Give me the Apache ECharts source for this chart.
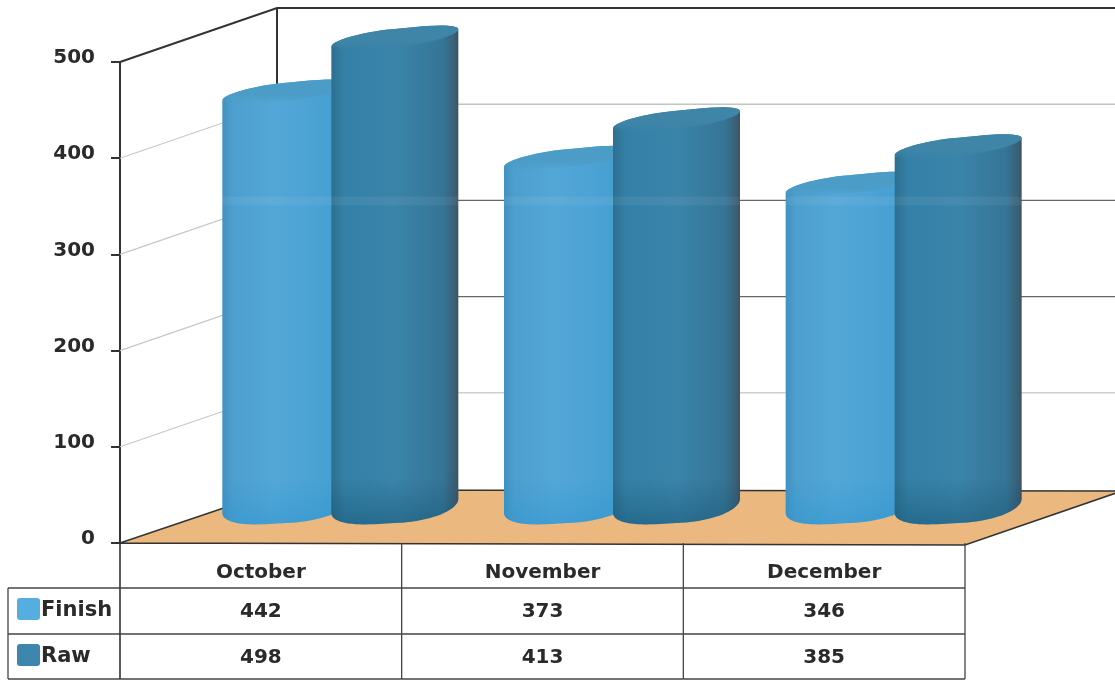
<!DOCTYPE html>
<html>
<head>
<meta charset="utf-8">
<style>
  html, body { margin: 0; padding: 0; background: #fff; }
  #main { width: 1115px; height: 680px; }
</style>
<script src="https://cdn.jsdelivr.net/npm/echarts@6/dist/echarts.min.js"></script>
</head>
<body>
<div id="main"></div>
<script>
var categories = ['October', 'November', 'December'];
var finishValues = [442, 373, 346];
var rawValues = [498, 413, 385];
var yTicks = [0, 100, 200, 300, 400, 500];

var font = '"DejaVu Sans", sans-serif';
var textColor = '#2a2a2a';
var lineColor = '#333';
// depth of the fake 3d box
var depthX = 157, depthY = -54;
// table rows under the axis
var rowTops = [588, 634, 679];
var tableLeft = 8;
var backLineColor = { 100: '#cfcfcf', 200: '#666', 300: '#666', 400: '#c4c4c4' };

var chart = echarts.init(document.getElementById('main'), null, { renderer: 'canvas' });

function wallItem(params, api) {
  var v = api.value(0);
  var cs = params.coordSys;
  var y = api.coord([0, v])[1];
  var x0 = cs.x, x1 = cs.x + cs.width;
  var bx = x0 + depthX, by = y + depthY;
  var right = x1 + depthX;
  var kids = [];
  if (v === 0) {
    kids.push({
      type: 'polygon',
      shape: { points: [[x0, y], [bx, by + 1], [right, by + 2], [x1, y + 2]] },
      style: { fill: '#ebb87f', stroke: lineColor, lineWidth: 1.6 }
    });
    kids.push({
      type: 'line',
      shape: { x1: bx, y1: by, x2: bx, y2: api.coord([0, 500])[1] + depthY },
      style: { stroke: lineColor, lineWidth: 2 }
    });
  } else if (v === 500) {
    kids.push({
      type: 'polyline',
      shape: { points: [[x0, y], [bx, by], [right, by]] },
      style: { stroke: lineColor, lineWidth: 2, fill: null }
    });
  } else {
    kids.push({
      type: 'line',
      shape: { x1: x0, y1: y, x2: bx, y2: by },
      style: { stroke: '#c8c8c8', lineWidth: 1.2 }
    });
    kids.push({
      type: 'line',
      shape: { x1: bx, y1: by, x2: right, y2: by },
      style: { stroke: backLineColor[v], lineWidth: 1.4 }
    });
  }
  return { type: 'group', children: kids };
}

// arc of a tilted ellipse, from angle a to angle b. power < 1 squares the ends off a bit
function arc(cx, cy, hw, tilt, minor, a, b, power) {
  var pts = [];
  var pw = power || 1;
  for (var i = 0; i <= 40; i++) {
    var t = a + (b - a) * i / 40;
    var c = Math.cos(t), s = Math.sin(t);
    var cp = (c < 0 ? -1 : 1) * Math.pow(Math.abs(c), pw);
    pts.push([cx + hw * cp, cy - tilt * c - minor * s]);
  }
  return pts;
}

function grad(stops, vertical) {
  return new echarts.graphic.LinearGradient(0, 0, vertical ? 0 : 1, vertical ? 1 : 0, stops);
}

function makeCylinder(offset, bodyStops, capTop, capFade, shade, shadeFade) {
  return function (params, api) {
    var p = api.coord([api.value(0), api.value(1)]);
    var base = api.coord([api.value(0), 0]);
    var hw = 63.5, tilt = 8.5;
    var cx = p[0] + offset;
    var topY = p[1] - 26;
    var botY = base[1] - 37;
    var upper = arc(cx, topY, hw, tilt, 9, Math.PI, 0, 0.85);
    var lower = arc(cx, botY, hw, 7, 17, 0, -Math.PI, 0.75);
    var shadeFrom = botY - 28;
    // pale ghost of the back wall line, it shows through the bars
    var ghostY = api.coord([0, 300])[1] + depthY;
    return {
      type: 'group',
      children: [
        { type: 'polygon', shape: { points: upper.concat(lower) }, style: { fill: grad(bodyStops) } },
        { type: 'polygon', shape: { points: [[cx - hw, shadeFrom], [cx + hw, shadeFrom]].concat(lower) }, style: { fill: grad([{ offset: 0, color: shadeFade }, { offset: 1, color: shade }], true) } },
        { type: 'rect', shape: { x: cx - hw, y: ghostY - 4, width: 2 * hw, height: 9 }, style: { fill: 'rgba(255,255,255,0.06)' } },
        { type: 'polygon', shape: { points: arc(cx, topY, hw, tilt, 9, 0, Math.PI * 2, 0.85) }, style: { fill: grad([{ offset: 0, color: capTop }, { offset: 0.6, color: capTop }, { offset: 1, color: capFade }], true) } }
      ]
    };
  };
}

function cellText(text, x, y) {
  return {
    type: 'text',
    style: { text: text, x: x, y: y, align: 'center', verticalAlign: 'middle', font: 'bold 20px ' + font, fill: textColor }
  };
}

function hLine(x1, x2, y) {
  return { type: 'line', shape: { x1: x1, y1: y, x2: x2, y2: y }, style: { stroke: '#444', lineWidth: 1.3 } };
}

function vLine(x, y1, y2) {
  return { type: 'line', shape: { x1: x, y1: y1, x2: x, y2: y2 }, style: { stroke: '#444', lineWidth: 1.3 } };
}

function tableItem(params, api) {
  var i = api.value(0);
  var band = api.size([1, 0])[0];
  var cx = api.coord([i, 0])[0];
  var bottom = api.coord([i, 0])[1];
  var midA = (rowTops[0] + rowTops[1]) / 2 + 1;
  var midB = (rowTops[1] + rowTops[2]) / 2 + 1;
  var kids = [
    vLine(cx + band / 2, bottom, rowTops[2]),
    cellText(String(api.value(1)), cx, midA),
    cellText(String(api.value(2)), cx, midB)
  ];
  rowTops.forEach(function (y) { kids.push(hLine(cx - band / 2, cx + band / 2, y)); });
  return { type: 'group', children: kids };
}

function legendCell(name, color, top) {
  return [
    { type: 'rect', left: 17, top: top + 10, shape: { width: 23, height: 22, r: 3 }, style: { fill: color } },
    { type: 'text', left: 41, top: top + 12, style: { text: name, font: 'bold 21px ' + font, fill: textColor } }
  ];
}

var legendLines = rowTops.map(function (y) {
  return { type: 'line', shape: { x1: tableLeft, y1: y, x2: 120, y2: y }, style: { stroke: '#444', lineWidth: 1.3 } };
});
legendLines.push({ type: 'line', shape: { x1: tableLeft, y1: rowTops[0], x2: tableLeft, y2: rowTops[2] }, style: { stroke: '#444', lineWidth: 1.3 } });
legendLines.push({ type: 'line', shape: { x1: 120, y1: 543, x2: 120, y2: rowTops[2] }, style: { stroke: '#333', lineWidth: 1.6 } });

var option = {
  animation: false,
  backgroundColor: '#fff',
  grid: { left: 120, right: 150, top: 62, bottom: 137 },
  graphic: legendLines
    .concat(legendCell('Finish', '#55ade0', rowTops[0]))
    .concat(legendCell('Raw', '#3f86ae', rowTops[1])),
  xAxis: {
    type: 'category',
    data: categories,
    axisLine: { show: true, lineStyle: { color: lineColor, width: 2 } },
    axisTick: { show: false },
    axisLabel: { margin: 20, color: textColor, fontFamily: font, fontWeight: 'bold', fontSize: 20 }
  },
  yAxis: {
    type: 'value',
    min: 0,
    max: 500,
    interval: 100,
    axisLine: { show: true, lineStyle: { color: lineColor, width: 2 } },
    axisTick: { show: true, length: 9, lineStyle: { color: lineColor, width: 2 } },
    axisLabel: { margin: 25, color: textColor, fontFamily: font, fontWeight: 'bold', fontSize: 20, verticalAlign: 'bottom', lineHeight: 8 },
    splitLine: { show: false }
  },
  series: [
    {
      name: 'Wall',
      type: 'custom',
      renderItem: wallItem,
      encode: { y: 0 },
      data: yTicks.map(function (v) { return [v]; }),
      silent: true,
      z: 1
    },
    {
      name: 'Finish',
      type: 'custom',
      renderItem: makeCylinder(25, [
        { offset: 0, color: '#4291c0' },
        { offset: 0.08, color: '#4c9fce' },
        { offset: 0.4, color: '#53a7d7' },
        { offset: 0.85, color: '#47a0d2' },
        { offset: 1, color: '#3f94c4' }
      ], '#4b9cc7', 'rgba(75,156,199,0)', 'rgba(40,145,205,0.4)', 'rgba(40,145,205,0)'),
      encode: { x: 0, y: 1 },
      data: finishValues.map(function (v, i) { return [i, v]; }),
      z: 2
    },
    {
      name: 'Raw',
      type: 'custom',
      renderItem: makeCylinder(134, [
        { offset: 0, color: '#2d6f90' },
        { offset: 0.1, color: '#3480a6' },
        { offset: 0.5, color: '#3a84aa' },
        { offset: 0.88, color: '#357596' },
        { offset: 0.97, color: '#3a5f75' },
        { offset: 1, color: '#3d5361' }
      ], '#3f85a8', 'rgba(63,133,168,0)', 'rgba(20,80,110,0.45)', 'rgba(20,80,110,0)'),
      encode: { x: 0, y: 1 },
      data: rawValues.map(function (v, i) { return [i, v]; }),
      z: 3
    },
    {
      name: 'Table',
      type: 'custom',
      renderItem: tableItem,
      encode: { x: 0 },
      data: categories.map(function (c, i) { return [i, finishValues[i], rawValues[i]]; }),
      silent: true,
      z: 4
    }
  ]
};

chart.setOption(option);
</script>
</body>
</html>
